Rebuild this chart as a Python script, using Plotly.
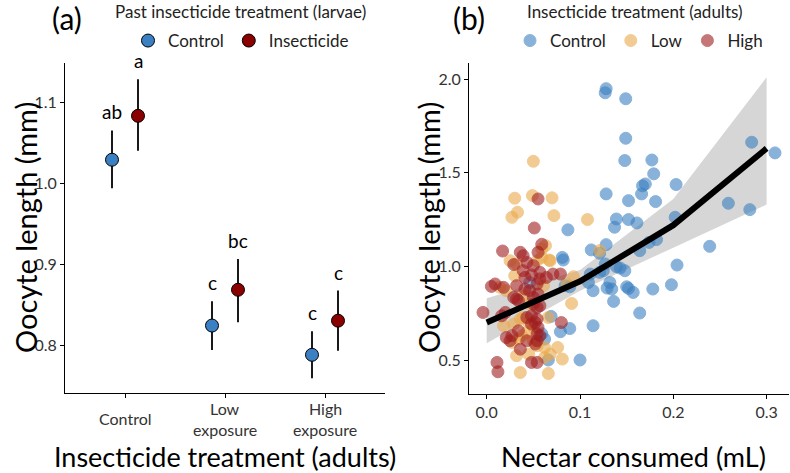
import plotly.graph_objects as go

# ---------------- Panel (a) data ----------------
treatments = ["Control", "Low exposure", "High exposure"]
tick_lines = [["Control"], ["Low", "exposure"], ["High", "exposure"]]
larvae_groups = ["Control", "Insecticide"]
mean_control = [1.029, 0.825, 0.789]
upper_control = [1.065, 0.855, 0.818]
lower_control = [0.994, 0.795, 0.760]
letters_control = ["ab", "c", "c"]
mean_insect = [1.083, 0.869, 0.831]
upper_insect = [1.128, 0.907, 0.868]
lower_insect = [1.040, 0.829, 0.794]
letters_insect = ["a", "bc", "c"]

# ---------------- Panel (b) data ----------------
ctrl_x = [0.128, 0.127, 0.149, 0.149, 0.284, 0.309, 0.148, 0.177, 0.179, 0.167, 0.170, 0.166,
          0.128, 0.152, 0.181, 0.203, 0.259, 0.282, 0.139, 0.152, 0.161, 0.137, 0.087, 0.202,
          0.239, 0.174, 0.182, 0.128, 0.112, 0.121, 0.164, 0.081, 0.139, 0.143, 0.148, 0.204,
          0.132, 0.134, 0.136, 0.150, 0.152, 0.157, 0.178, 0.198, 0.164, 0.114, 0.100, 0.066,
          0.089, 0.079, 0.062, 0.069, 0.114, 0.129, 0.082, 0.111, 0.121, 0.125, 0.127, 0.109,
          0.089, 0.084, 0.046, 0.059]
ctrl_y = [1.949, 1.927, 1.895, 1.684, 1.663, 1.606, 1.565, 1.568, 1.494, 1.430, 1.440, 1.387,
          1.387, 1.351, 1.346, 1.437, 1.337, 1.303, 1.253, 1.250, 1.232, 1.209, 1.195, 1.262,
          1.107, 1.128, 1.143, 1.116, 1.088, 1.070, 1.084, 1.048, 0.998, 0.991, 0.977, 1.007,
          0.914, 0.879, 0.813, 0.891, 0.882, 0.861, 0.879, 0.902, 0.751, 0.683, 0.500, 0.500,
          0.668, 0.651, 0.612, 0.733, 0.870, 0.884, 1.034, 0.959, 0.968, 0.977, 1.013, 0.914,
          0.891, 0.897, 0.914, 0.640]
low_x = [0.050, 0.030, 0.049, 0.070, 0.033, 0.027, 0.072, 0.108, 0.063, 0.059, 0.121, 0.067,
         0.036, 0.066, 0.076, 0.081, 0.091, 0.093, 0.034, 0.021, 0.039, 0.045, 0.050, 0.038,
         0.050, 0.054, 0.027, 0.032, 0.045, 0.062, 0.029, 0.018, 0.025, 0.032, 0.054, 0.059,
         0.068, 0.014, 0.046, 0.061, 0.086, 0.036, 0.043, 0.062, 0.068, 0.030, 0.039, 0.066]
low_y = [1.561, 1.364, 1.378, 1.366, 1.289, 1.262, 1.271, 1.250, 1.111, 1.093, 1.084, 1.034,
         0.433, 0.428, 0.567, 0.505, 0.802, 0.945, 0.612, 0.870, 0.727, 0.700, 0.674, 0.629,
         0.603, 0.576, 0.594, 0.523, 0.531, 0.513, 0.692, 0.683, 1.030, 1.013, 1.030, 1.048,
         1.030, 0.888, 0.799, 0.897, 0.906, 0.719, 0.647, 0.567, 0.531, 0.950, 0.843, 0.727]
high_x = [0.055, 0.051, 0.017, 0.036, 0.039, 0.059, 0.055, 0.029, 0.050, -0.004, 0.009, 0.005,
          0.018, 0.032, 0.041, 0.048, 0.029, 0.032, 0.021, 0.025, 0.036, 0.048, 0.011, 0.012,
          0.016, 0.020, 0.048, 0.054, 0.043, 0.054, 0.057, 0.027, 0.050, 0.055, 0.055, 0.039,
          0.057, 0.054, 0.080, 0.079, 0.071, 0.064, 0.057, 0.054, 0.043, 0.034, 0.041, 0.046,
          0.050, 0.054, 0.057, 0.043, 0.048, 0.052, 0.034, 0.054, 0.052]
high_y = [1.360, 1.205, 1.082, 1.075, 1.057, 1.118, 1.075, 1.010, 1.004, 0.754, 0.906, 0.893,
          0.888, 0.897, 0.941, 0.954, 0.834, 0.826, 0.620, 0.603, 0.558, 0.487, 0.487, 0.437,
          0.736, 0.754, 0.692, 0.719, 0.603, 0.639, 0.630, 0.630, 0.834, 0.852, 0.674, 0.977,
          0.968, 0.487, 0.700, 0.959, 0.959, 0.941, 0.933, 0.906, 1.021, 0.817, 0.879, 0.870,
          0.799, 0.781, 0.790, 0.727, 0.736, 0.700, 0.656, 0.603, 0.585]

fit_x = [0.0, 0.1, 0.2, 0.3]
fit_y = [0.70, 0.92, 1.22, 1.63]
fit_lo = [0.59, 0.87, 1.10, 1.33]
fit_hi = [0.83, 0.98, 1.36, 2.01]

FONT = "Lato"
BLUE_A = "#3A80C3"
RED_A = "#8B0000"
BLUE_B = "#3A7FC0"
ORANGE_B = "#EBA94C"
RED_B = "#A01C1E"
TICK_COL = "#333333"

fig = go.Figure()

# ---- panel (a) ----
dodge = 0.13
pos = [i + 1 for i in range(len(treatments))]
for name, means, ups, lows, col, off in [
    ("Control", mean_control, upper_control, lower_control, BLUE_A, -dodge),
    ("Insecticide", mean_insect, upper_insect, lower_insect, RED_A, dodge),
]:
    fig.add_trace(go.Scatter(
        x=[p + off for p in pos], y=means, mode="markers", name=name,
        marker=dict(size=13, color=col, line=dict(color="black", width=1)),
        error_y=dict(type="data", symmetric=False,
                     array=[u - m for u, m in zip(ups, means)],
                     arrayminus=[m - l for m, l in zip(means, lows)],
                     color="black", thickness=1.8, width=0),
        xaxis="x", yaxis="y", legend="legend", showlegend=True,
    ))

annotations = []
for letters, ups, off in [(letters_control, upper_control, -dodge), (letters_insect, upper_insect, dodge)]:
    for p, lt, u in zip(pos, letters, ups):
        annotations.append(dict(x=p + off, y=u, xref="x", yref="y", text=lt, showarrow=False,
                                xanchor="center", yanchor="bottom", yshift=5,
                                font=dict(size=19, color="black", family=FONT)))

# x tick labels (two-line, centred) for panel (a)
for p, lines in zip(pos, tick_lines):
    n = len(lines)
    for k, ln in enumerate(lines):
        ypx = 418.5 + (k - (n - 1) / 2) * 21
        annotations.append(dict(x=p, y=1 - ypx / 473, xref="x", yref="paper", text=ln, showarrow=False,
                                xanchor="center", yanchor="middle",
                                font=dict(size=16, color=TICK_COL, family=FONT)))

# ---- panel (b) ----
fig.add_trace(go.Scatter(x=fit_x, y=fit_lo, mode="lines", line=dict(width=0, color="rgba(0,0,0,0)"),
                         xaxis="x2", yaxis="y2", showlegend=False, hoverinfo="skip"))
fig.add_trace(go.Scatter(x=fit_x, y=fit_hi, mode="lines", line=dict(width=0, color="rgba(0,0,0,0)"),
                         fill="tonexty", fillcolor="rgba(153,153,153,0.4)",
                         xaxis="x2", yaxis="y2", showlegend=False, hoverinfo="skip"))
for name, xs, ys, col in [("Control", ctrl_x, ctrl_y, BLUE_B), ("Low", low_x, low_y, ORANGE_B),
                          ("High", high_x, high_y, RED_B)]:
    fig.add_trace(go.Scatter(x=xs, y=ys, mode="markers", name=name,
                             marker=dict(size=12, color=col, opacity=0.6, line=dict(color=col, width=1)),
                             xaxis="x2", yaxis="y2", legend="legend2"))
fig.add_trace(go.Scatter(x=fit_x, y=fit_y, mode="lines", line=dict(width=6, color="black"),
                         xaxis="x2", yaxis="y2", showlegend=False))


def paper_text(xpx, ypx, text, size, angle=0, color="black"):
    return dict(x=xpx / 790, y=1 - ypx / 473, xref="paper", yref="paper", text=text, showarrow=False,
                xanchor="center", yanchor="middle", textangle=angle,
                font=dict(size=size, color=color, family=FONT))


annotations += [
    paper_text(67, 18, "(a)", 30),
    paper_text(469, 18, "(b)", 30),
    paper_text(25, 228, "Oocyte length (mm)", 29, -90),
    paper_text(428, 228, "Oocyte length (mm)", 29, -90),
    paper_text(225, 456, "Insecticide treatment (adults)", 27),
    paper_text(633, 456, "Nectar consumed (mL)", 27),
    # legend titles
    paper_text(240, 11, "Past insecticide treatment (larvae)", 17, color="#222222"),
    paper_text(635, 11, "Insecticide treatment (adults)", 17, color="#222222"),
]

axis_common = dict(showline=True, linecolor="black", linewidth=1, ticks="outside", ticklen=4,
                   tickcolor="black", showgrid=False, zeroline=False,
                   tickfont=dict(size=16, color=TICK_COL, family=FONT))

fig.update_layout(
    width=790, height=473, margin=dict(l=0, r=0, t=0, b=0),
    plot_bgcolor="white", paper_bgcolor="white",
    font=dict(family=FONT, color="black"),
    xaxis=dict(domain=[65 / 790, 385 / 790], range=[0.4, 3.6], tickvals=pos, showticklabels=False,
               anchor="y", **axis_common),
    yaxis=dict(domain=[1 - 393 / 473, 1 - 63 / 473], range=[0.742, 1.148],
               tickvals=[0.8, 0.9, 1.0, 1.1], ticktext=["0.8", "0.9", "1.0", "1.1"], anchor="x", **axis_common),
    xaxis2=dict(domain=[469 / 790, 789 / 790], range=[-0.019, 0.324], tickvals=[0, 0.1, 0.2, 0.3],
                ticktext=["0.0", "0.1", "0.2", "0.3"], anchor="y2", **axis_common),
    yaxis2=dict(domain=[1 - 394 / 473, 1 - 63 / 473], range=[0.3185, 2.086],
                tickvals=[0.5, 1.0, 1.5, 2.0], ticktext=["0.5", "1.0", "1.5", "2.0"], anchor="x2", **axis_common),
    legend=dict(orientation="h", x=128 / 790, xanchor="left", y=1 - 23 / 473, yanchor="top",
                traceorder="normal",
                font=dict(size=17, color="#222222", family=FONT), bgcolor="rgba(0,0,0,0)", itemwidth=30),
    legend2=dict(orientation="h", x=510 / 790, xanchor="left", y=1 - 23 / 473, yanchor="top",
                 traceorder="normal",
                 font=dict(size=17, color="#222222", family=FONT), bgcolor="rgba(0,0,0,0)", itemwidth=30),
    annotations=annotations,
    showlegend=True,
)

fig.write_html("out.html")
